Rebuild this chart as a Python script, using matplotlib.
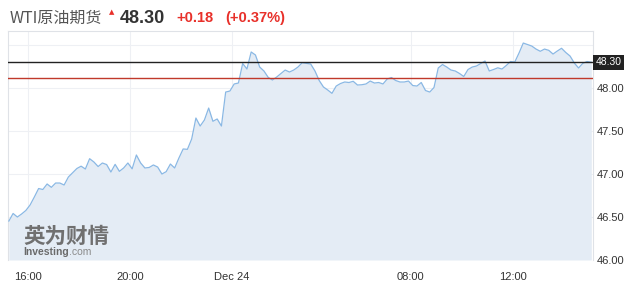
import numpy as np
import matplotlib
matplotlib.use("Agg")
import matplotlib.pyplot as plt

# WTI crude futures, 10-minute closes, trading time (minutes from 16:00, break skipped)
start_minute = -45
step_minutes = 10
prices = [
    46.453, 46.541, 46.500, 46.535, 46.576, 46.640, 46.733, 46.831, 46.820, 46.884,
    46.845, 46.895, 46.895, 46.872, 46.965, 47.015, 47.064, 47.091, 47.058, 47.178,
    47.140, 47.087, 47.128, 47.110, 47.023, 47.112, 47.031, 47.070, 47.128, 47.060,
    47.221, 47.128, 47.070, 47.076, 47.105, 47.081, 47.000, 47.027, 47.116, 47.070,
    47.186, 47.291, 47.287, 47.407, 47.651, 47.558, 47.628, 47.767, 47.613, 47.640,
    47.558, 47.953, 47.965, 48.047, 48.058, 48.285, 48.221, 48.419, 48.384, 48.244,
    48.198, 48.124, 48.093, 48.128, 48.169, 48.209, 48.186, 48.209, 48.244, 48.294,
    48.287, 48.279, 48.198, 48.087, 48.012, 47.977, 47.938, 48.023, 48.052, 48.070,
    48.064, 48.078, 48.035, 48.038, 48.047, 48.081, 48.058, 48.064, 48.047, 48.105,
    48.122, 48.087, 48.070, 48.070, 48.081, 48.029, 48.023, 48.064, 47.971, 47.953,
    48.006, 48.233, 48.273, 48.244, 48.209, 48.198, 48.169, 48.134, 48.215, 48.244,
    48.256, 48.285, 48.314, 48.198, 48.215, 48.235, 48.221, 48.262, 48.308, 48.302,
    48.407, 48.523, 48.506, 48.488, 48.453, 48.427, 48.453, 48.438, 48.395, 48.430,
    48.462, 48.413, 48.372, 48.291, 48.233, 48.287, 48.308, 48.300,
]
last_price = 48.30
prev_close = 48.12
change = "+0.18"
change_pct = "(+0.37%)"

tick_minutes = [0, 240, 480, 900, 1140]
tick_labels = ["16:00", "20:00", "Dec 24", "08:00", "12:00"]
y_ticks = [46.0, 46.5, 47.0, 47.5, 48.0, 48.5]
y_labels = ["46.00", "46.50", "47.00", "47.50", "48.00", ""]

x = start_minute + step_minutes * np.arange(len(prices))

plt.rcParams['font.family'] = ['Liberation Sans', 'DejaVu Sans']
fig = plt.figure(figsize=(6.3, 3.06), dpi=100)
ax = fig.add_axes([8/630, 46/306, 585/630, 229/306])

ax.fill_between(x, prices, 46.0, color='#e4ecf5', lw=0, zorder=1)
ax.plot(x, prices, color='#8ab8e4', lw=0.9, zorder=3)
ax.axhline(last_price, color='#222222', lw=1, zorder=4)
ax.axhline(prev_close, color='#c0392b', lw=1, zorder=4)

ax.set_xlim(-47, 1329)
ax.set_ylim(46.0, 48.663)
ax.set_xticks(tick_minutes)
ax.set_xticklabels(tick_labels)
ax.set_yticks(y_ticks)
ax.set_yticklabels(y_labels)
ax.yaxis.tick_right()
ax.tick_params(axis='both', length=0, labelsize=8, colors='#333333')
ax.tick_params(axis='x', pad=9)
ax.tick_params(axis='y', pad=3)
ax.grid(True, color='#eef0f4', lw=0.8, zorder=0)
ax.set_axisbelow(True)
for s in ['top', 'left', 'right']:
    ax.spines[s].set_color('#dfe2e7')
ax.spines['bottom'].set_visible(False)

# current price tag
ax.text(1.004, last_price, "48.30", transform=ax.get_yaxis_transform(),
        color='white', fontsize=7.5, va='center', ha='left', zorder=6,
        bbox=dict(boxstyle='square,pad=0.25', fc='#222222', ec='none'))

# watermark
ax.text(0.026, 0.075, "英为财情", transform=ax.transAxes, fontsize=15.5, fontweight='bold',
        color='#707070', family=['Noto Sans CJK SC', 'DejaVu Sans'], zorder=2)
inv = ax.text(0.026, 0.02, "Investing", transform=ax.transAxes, fontsize=7.5,
              fontweight='bold', color='#6a6a6a', zorder=2)
ax.annotate(".com", xy=(1, 0), xycoords=inv, va='bottom', ha='left',
            fontsize=7.5, color='#8a8a8a', zorder=2)

# header
fig.text(10/630, 1-23/306, "WTI原油期货", fontsize=11.5, color='#555555',
         family=['Noto Sans CJK SC', 'DejaVu Sans'])
fig.text(112/630, 1-14/306, "▲", fontsize=5, color='#e8302a', family='DejaVu Sans', ha='center')
fig.text(120/630, 1-23/306, "48.30", fontsize=13, fontweight='bold', color='#333333')
fig.text(176/630, 1-22/306, change, fontsize=10.5, fontweight='bold', color='#e8302a')
fig.text(225/630, 1-22/306, change_pct, fontsize=10.5, fontweight='bold', color='#e8302a')

fig.savefig("out.png", dpi=100)
